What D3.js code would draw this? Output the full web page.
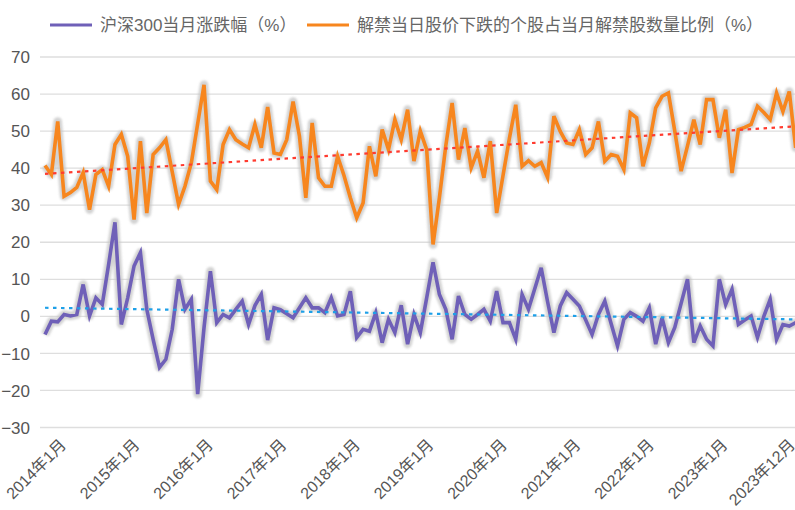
<!DOCTYPE html>
<html lang="zh-CN">
<head>
  <meta charset="UTF-8">
  <title>沪深300与解禁下跌比例</title>
  <script src="https://cdn.jsdelivr.net/npm/d3@7"></script>
  <style>
    body { margin: 0; background: #fff; }
    svg { display: block; font-family: "Liberation Sans", "Noto Sans CJK SC", sans-serif; }
    .ylab { font-size: 17px; fill: #555; text-anchor: end; }
    .xlab { font-size: 16px; fill: #555; text-anchor: end; }
    .legend text { font-size: 17px; fill: #666; }
  </style>
</head>
<body>
  <svg id="chart" width="795" height="510"></svg>
  <script>
    // 月份类目 2014年1月 ~ 2023年12月
    const months = [];
    for (let y = 2014; y <= 2023; y++) {
      for (let m = 1; m <= 12; m++) months.push(`${y}年${m}月`);
    }

    // 沪深300当月涨跌幅（%）
    const hs300 = [
      -4.9, -1.3, -1.5, 0.5, 0.1, 0.5, 8.6, 0.1, 5.0, 3.2, 14, 25.4,
      -2.2, 5, 13.6, 17.2, 1.9, -6.2, -13.8, -11.6, -3.5, 10, 1.9, 4.6,
      -21, -3, 12.2, -1.7, 0.5, -0.4, 1.9, 4.1, -2.2, 2.9, 5.9, -6.4,
      2.3, 1.8, 0.7, -0.4, 2.3, 5.0, 2.3, 2.3, 1.0, 5.0, 0.1, 0.5,
      6.8, -5.7, -3.5, -4.0, 1.0, -7.1, -0.8, -4.4, 3.0, -7.5, 0.5, -4.4,
      5, 14.6, 5.9, 1.9, -6.2, 5.5, 0.5, -0.8, 0.5, 1.9, -1.3, 6.8,
      -1.7, -1.7, -6.2, 5.9, 1.9, 7.5, 13.1, 4, -4.4, 2.8, 6.4, 4.6,
      2.8, -1, -4.9, 0.5, 4.1, -2, -8.0, -0.8, 1.0, 0, -1.3, 2.3,
      -7.5, -0.4, -7.1, -3.0, 3.5, 10, -7.1, -2.6, -6.2, -8.0, 10, 3.2,
      7.3, -2.2, -1, 0.1, -5.7, 0, 4.6, -6.2, -2.2, -2.6, -1.7, -1.9
    ];

    // 解禁当日股价下跌的个股占当月解禁股数量比例（%）
    const unlockDown = [
      40.7, 38.3, 52.6, 32.4, 33.4, 34.8, 38.8, 28.8, 38.3, 39.6, 35.1, 46.4,
      49.1, 43.2, 26.1, 47.3, 27.9, 43.7, 45.5, 47.7, 39, 30.2, 35.1, 41.4,
      52, 62.5, 36.5, 34.2, 46.4, 50.4, 47.7, 46.5, 45.5, 51.8, 45.5, 56.5,
      44.1, 43.7, 47.7, 58.0, 48.6, 32.0, 52.2, 37.4, 35.1, 35.1, 43.2, 38,
      32, 26.6, 30.6, 45.9, 37.8, 50.4, 45.0, 53.1, 47.7, 55.8, 41.9, 50.0,
      45.0, 19.4, 32, 46, 57.6, 42.3, 50.8, 40.1, 44.6, 37.4, 47.3, 27.9,
      38, 48, 57.1, 40.5, 42, 40.5, 41.5, 37.5, 54.0, 49.9, 46.8, 46.4,
      50.4, 43.7, 45.5, 52.6, 41.9, 43.7, 43.2, 39.6, 54.9, 53.6, 40.5, 46.8,
      56.3, 59.4, 60.3, 50, 39.2, 46, 53.1, 46.4, 58.5, 58.5, 48.2, 55.8,
      38.7, 50.4, 51, 51.8, 56.7, 55, 53.1, 60.3, 55.3, 60.7, 45.5, 50
    ];

    const yTicks = [-30, -20, -10, 0, 10, 20, 30, 40, 50, 60, 70];
    const tickLabels = months.filter((d, i) => i % 12 === 0 || i === months.length - 1);

    const series = [
      { name: '沪深300当月涨跌幅（%）', values: hs300, color: '#6f60b8', trend: '#1ea0e8' },
      { name: '解禁当日股价下跌的个股占当月解禁股数量比例（%）', values: unlockDown, color: '#f7861e', trend: '#ff3b2f' }
    ];

    const svg = d3.select('#chart');

    const x = d3.scalePoint().domain(months).range([45, 802]);
    const xLab = d3.scalePoint().domain(months).range([67, 796]);   // 标签行间距略小
    const y = d3.scaleLinear().domain([-30, 70]).range([427.5, 57]);

    // 光晕滤镜
    const defs = svg.append('defs');
    defs.append('filter').attr('id', 'glow')
      .attr('x', '-5%').attr('y', '-5%').attr('width', '110%').attr('height', '110%')
      .append('feGaussianBlur').attr('stdDeviation', 1.3);

    // 网格线 + y 轴标签
    svg.append('g').selectAll('line').data(yTicks).join('line')
      .attr('x1', 40).attr('x2', 795)
      .attr('y1', d => y(d)).attr('y2', d => y(d))
      .attr('stroke', '#dedede').attr('stroke-width', 1.3);
    svg.append('g').selectAll('text').data(yTicks).join('text')
      .attr('class', 'ylab')
      .attr('x', 30).attr('y', d => y(d)).attr('dy', '0.36em')
      .text(d3.format('d'));

    // x 轴标签（旋转 -45°）
    svg.append('g').selectAll('text').data(tickLabels).join('text')
      .attr('class', 'xlab')
      .attr('transform', d => `translate(${xLab(d)},446) rotate(-45)`)
      .text(d => d);

    const line = d3.line().x((d, i) => x(months[i])).y(d => y(d));

    // 折线（带灰色光晕）
    series.forEach(s => {
      svg.append('path').attr('d', line(s.values))
        .attr('fill', 'none').attr('stroke', '#c4c4c4').attr('stroke-width', 8.5)
        .attr('stroke-linejoin', 'round').attr('opacity', 0.75)
        .attr('filter', 'url(#glow)');
      svg.append('path').attr('d', line(s.values))
        .attr('fill', 'none').attr('stroke', s.color).attr('stroke-width', 3.6)
        .attr('stroke-linejoin', 'miter');
    });

    // 线性趋势线（最小二乘）
    series.forEach(s => {
      const n = s.values.length;
      const mx = d3.mean(d3.range(n)), my = d3.mean(s.values);
      const b = d3.sum(s.values, (v, i) => (i - mx) * (v - my)) / d3.sum(d3.range(n), i => (i - mx) ** 2);
      const a = my - b * mx;
      svg.append('line')
        .attr('x1', x(months[0])).attr('y1', y(a))
        .attr('x2', x(months[n - 1])).attr('y2', y(a + b * (n - 1)))
        .attr('stroke', s.trend).attr('stroke-width', 2.2)
        .attr('stroke-dasharray', '3.5 4.5');
    });

    // 图例
    const legend = svg.append('g').attr('class', 'legend');
    const legendX = [50, 307];
    series.forEach((s, i) => {
      const g = legend.append('g').attr('transform', `translate(${legendX[i]},25)`);
      g.append('line').attr('x1', 0).attr('x2', 42).attr('stroke', s.color).attr('stroke-width', 3);
      g.append('text').attr('x', 50).attr('dy', '0.36em').text(s.name);
    });
  </script>
</body>
</html>
